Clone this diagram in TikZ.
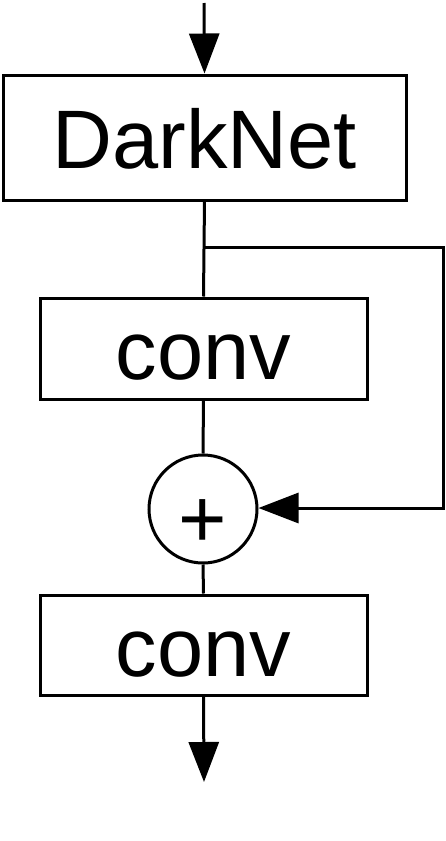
\documentclass[tikz,border=0pt]{standalone}
\usepackage{fontspec}
\setmainfont{Liberation Sans}
\usetikzlibrary{arrows.meta}
\begin{document}
\begin{tikzpicture}[x=1pt,y=-1pt,
  line width=3pt,
  box/.style={draw, rectangle, inner sep=0pt, font=\fontsize{83}{90}\selectfont, text height=62pt, text depth=0pt},
  sumnode/.style={draw, circle, inner sep=0pt, minimum size=108pt, font=\fontsize{83}{90}\selectfont, text height=76pt, text depth=0pt},
  arr/.style={-{Triangle[length=40pt,width=30pt]}}]
\useasboundingbox (0,0) rectangle (445,841);
\node[box, minimum width=403pt, minimum height=125pt] (dark) at (204.5,137.5) {DarkNet};
\node[box, minimum width=327pt, minimum height=101pt] (conva) at (203.5,348.5) {conv};
\node[sumnode] (plus) at (203,509) {+};
\node[box, minimum width=327pt, minimum height=100pt] (convb) at (203.5,645) {conv};
\coordinate (in) at (204,3);
\coordinate (out) at (204,782);
\coordinate (br) at (204,247);
\coordinate (rc1) at (443,247);
\coordinate (rc2) at (443,508);
\draw[arr] (in) -- (dark.north);
\draw (dark.south) -- (conva.north);
\draw (conva.south) -- (plus.north);
\draw (plus.south) -- (convb.north);
\draw[arr] (convb.south) -- (out);
\draw[arr] (br) -- (rc1) -- (rc2) -- (plus.east |- rc2);
\end{tikzpicture}
\end{document}
